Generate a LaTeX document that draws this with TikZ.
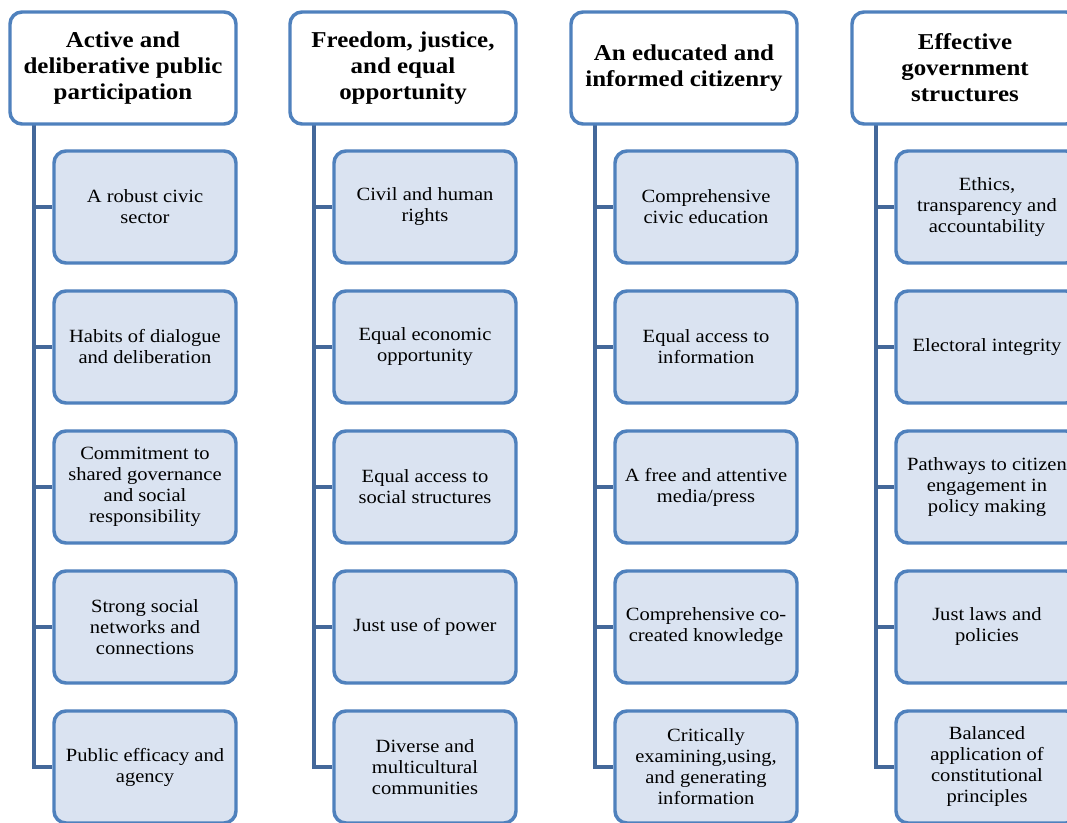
\documentclass[tikz,border=0pt]{standalone}
\usepackage{fontspec}
\setmainfont[FakeStretch=1.1]{Liberation Serif}
\usetikzlibrary{backgrounds}
\definecolor{bord}{RGB}{79,129,189}
\definecolor{conn}{RGB}{68,104,154}
\definecolor{cfill}{RGB}{218,227,241}
\begin{document}
\begin{tikzpicture}[x=0.75pt,y=-0.75pt,
  head/.style={draw=bord,line width=2.6pt,rounded corners=9pt,fill=white,
    minimum width=169.5pt,minimum height=84pt,align=center,
    font=\fontsize{17}{19.5}\selectfont\bfseries,inner sep=0pt},
  kid/.style={draw=bord,line width=2.6pt,rounded corners=9pt,fill=cfill,
    minimum width=136.5pt,minimum height=84pt,align=center,
    font=\fontsize{14}{15.75}\selectfont,inner sep=0pt},
  link/.style={draw=conn,line width=3pt}]
\useasboundingbox (0,0) rectangle (1067,823);
\clip (0,0) rectangle (1067,823);
% headers
\node[head] (h1) at (123,68) {Active and\\deliberative public\\participation};
\node[head] (h2) at (403,68) {Freedom, justice,\\and equal\\opportunity};
\node[head] (h3) at (684,68) {An educated and\\informed citizenry};
\node[head] (h4) at (965,68) {Effective\\government\\structures};
% column 1
\node[kid] (a1) at (145,207) {A robust civic\\sector};
\node[kid] (a2) at (145,347) {Habits of dialogue\\and deliberation};
\node[kid] (a3) at (145,487) {Commitment to\\shared governance\\and social\\responsibility};
\node[kid] (a4) at (145,627) {Strong social\\networks and\\connections};
\node[kid] (a5) at (145,767) {Public efficacy and\\agency};
% column 2
\node[kid] (b1) at (425,207) {Civil and human\\rights};
\node[kid] (b2) at (425,347) {Equal economic\\opportunity};
\node[kid] (b3) at (425,487) {Equal access to\\social structures};
\node[kid] (b4) at (425,627) {Just use of power};
\node[kid] (b5) at (425,767) {Diverse and\\multicultural\\communities};
% column 3
\node[kid] (c1) at (706,207) {Comprehensive\\civic education};
\node[kid] (c2) at (706,347) {Equal access to\\information};
\node[kid] (c3) at (706,487) {A free and attentive\\media/press};
\node[kid] (c4) at (706,627) {Comprehensive co-\\created knowledge};
\node[kid] (c5) at (706,767) {Critically\\examining,using,\\and generating\\information};
% column 4
\node[kid] (d1) at (987,207) {Ethics,\\transparency and\\accountability};
\node[kid] (d2) at (987,347) {Electoral integrity};
\node[kid] (d3) at (987,487) {Pathways to citizen\\engagement in\\policy making};
\node[kid] (d4) at (987,627) {Just laws and\\policies};
\node[kid] (d5) at (987,767) {Balanced\\application of\\constitutional\\principles};
% connectors
\coordinate (la) at (34,124);
\coordinate (lb) at (314,124);
\coordinate (lc) at (595,124);
\coordinate (ld) at (876,124);
\begin{scope}[on background layer]
\fill[white] (0,0) rectangle (1067,823);
\foreach \l/\p in {la/a,lb/b,lc/c,ld/d}{
  \draw[link] (\l) |- (\p5.west);
  \foreach \k in {1,2,3,4}{
    \draw[link] (\l |- \p\k.west) -- (\p\k.west);
  }
}
\end{scope}
\end{tikzpicture}
\end{document}
